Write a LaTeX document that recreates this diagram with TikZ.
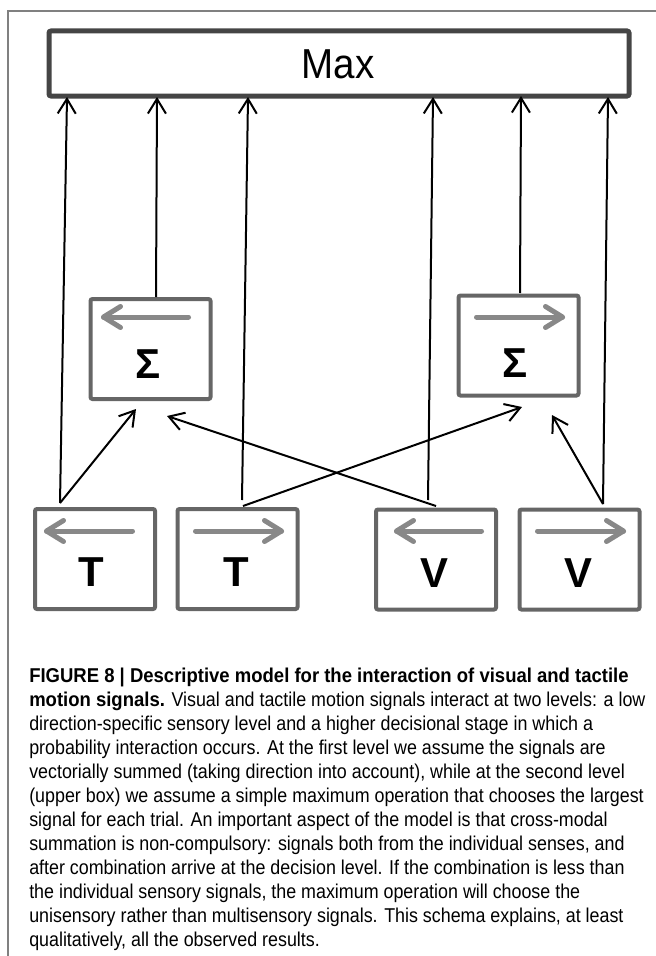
\documentclass[tikz,border=0pt]{standalone}
\usepackage{fontspec}
\setmainfont{Liberation Sans}
\newfontfamily\maxfont[FakeStretch=0.92]{Liberation Sans}
\newfontfamily\capfont[FakeStretch=0.893]{Liberation Sans}
\newfontfamily\capbold[FakeStretch=0.925]{Liberation Sans Bold}
\usetikzlibrary{arrows.meta,calc}
\definecolor{boxdark}{HTML}{454545}
\definecolor{boxgray}{HTML}{666666}
\definecolor{arrgray}{HTML}{888888}
\definecolor{framegray}{HTML}{808080}
\tikzset{
  maxbox/.style={draw=boxdark, line width=3.75pt, fill=white, rounded corners=1.5pt,
    minimum width=435pt, minimum height=48.75pt, inner sep=0pt,
    font=\maxfont\fontsize{31.4pt}{34pt}\selectfont},
  unitbox/.style={draw=boxgray, line width=3pt, fill=white, rounded corners=1.5pt,
    minimum width=90pt, minimum height=75pt, inner sep=0pt},
  letter/.style={inner sep=0pt, font=\bfseries\fontsize{31.4pt}{34pt}\selectfont},
  conn/.style={draw=black, line width=1.5pt, -{Straight Barb[length=11pt,width=13.5pt]}},
  garrow/.style={draw=arrgray, line width=3.75pt, line cap=round, line join=round},
  captext/.style={anchor=base west, inner sep=0pt, font=\capfont\fontsize{15pt}{18pt}\selectfont},
}
\begin{document}
\begin{tikzpicture}[x=0.75pt,y=-0.75pt]
\useasboundingbox (0,0) rectangle (656,956);
% frame
\draw[framegray, line width=0.9pt] (8,960) -- (8,11) -- (660,11);

% top box
\node[maxbox] (max) at (339,63.5) {};
\node[inner sep=0pt, font=\maxfont\fontsize{31.4pt}{34pt}\selectfont] (maxlbl) at (338,64) {Max};

% sum boxes
\node[unitbox] (sl) at (150.5,349) {};
\node[unitbox] (sr) at (518.5,345.5) {};
% sensory boxes
\node[unitbox] (t1) at (95,559) {};
\node[unitbox] (t2) at (237.5,559) {};
\node[unitbox] (v1) at (436,559.5) {};
\node[unitbox] (v2) at (579.5,559.5) {};

% labels
\node[letter] (slbl) at (148,364) {Σ};
\node[letter] (srlbl) at (515,363) {Σ};
\node[letter] (t1lbl) at (91,572) {T};
\node[letter] (t2lbl) at (236,572) {T};
\node[letter] (v1lbl) at (434,573) {V};
\node[letter] (v2lbl) at (578,573) {V};

% gray direction arrows
\draw[garrow] (188.5,317) -- (103.5,317);
\draw[garrow] (120.5,306.5) -- (103.5,317) -- (120.5,327.5);
\draw[garrow] (476.5,317) -- (562.5,317);
\draw[garrow] (545.5,306.5) -- (562.5,317) -- (545.5,327.5);
\draw[garrow] (132.5,531) -- (46.5,531);
\draw[garrow] (63.5,520.5) -- (46.5,531) -- (63.5,541.5);
\draw[garrow] (195.5,531) -- (281.5,531);
\draw[garrow] (264.5,520.5) -- (281.5,531) -- (264.5,541.5);
\draw[garrow] (481.5,531) -- (396.5,531);
\draw[garrow] (413.5,520.5) -- (396.5,531) -- (413.5,541.5);
\draw[garrow] (537.5,531) -- (623.5,531);
\draw[garrow] (606.5,520.5) -- (623.5,531) -- (606.5,541.5);

% connector end points
\coordinate (t1a) at (60,503);
\coordinate (t2a) at (242,500);
\coordinate (t2b) at (243,506);
\coordinate (v1a) at (428,500);
\coordinate (v1b) at (436,506);
\coordinate (v2a) at (603,504);
\coordinate (sla) at (156,297);
\coordinate (sra) at (520,293);
\coordinate (m1) at (67,97);
\coordinate (m2) at (157,97);
\coordinate (m3) at (248,97);
\coordinate (m4) at (433,97);
\coordinate (m5) at (521,96);
\coordinate (m6) at (608,97);
\coordinate (sl1) at (136,409);
\coordinate (sl2) at (167,416);
\coordinate (sr1) at (522,407);
\coordinate (sr2) at (552,415);

% connectors
\draw[conn] (t1a) -- (m1);
\draw[conn] (sla) -- (m2);
\draw[conn] (t2a) -- (m3);
\draw[conn] (v1a) -- (m4);
\draw[conn] (sra) -- (m5);
\draw[conn] (v2a) -- (m6);
\draw[conn] (t1a) -- (sl1);
\draw[conn] (v1b) -- (sl2);
\draw[conn] (t2b) -- (sr1);
\draw[conn] (v2a) -- (sr2);

% caption
\node[captext] (c1) at (29,682) {\capbold FIGURE 8 | Descriptive model for the interaction of visual and tactile};
\node[captext] (c2) at (29,706) {{\capbold motion signals.} Visual and tactile motion signals interact at two levels: a low};
\node[captext] (c3) at (29,730) {direction-specific sensory level and a higher decisional stage in which a};
\node[captext] (c4) at (29,754) {probability interaction occurs. At the first level we assume the signals are};
\node[captext] (c5) at (29,778) {vectorially summed (taking direction into account), while at the second level};
\node[captext] (c6) at (29,802) {(upper box) we assume a simple maximum operation that chooses the largest};
\node[captext] (c7) at (29,826) {signal for each trial. An important aspect of the model is that cross-modal};
\node[captext] (c8) at (29,850) {summation is non-compulsory: signals both from the individual senses, and};
\node[captext] (c9) at (29,874) {after combination arrive at the decision level. If the combination is less than};
\node[captext] (c10) at (29,898) {the individual sensory signals, the maximum operation will choose the};
\node[captext] (c11) at (29,922) {unisensory rather than multisensory signals. This schema explains, at least};
\node[captext] (c12) at (29,946) {qualitatively, all the observed results.};
\end{tikzpicture}
\end{document}
